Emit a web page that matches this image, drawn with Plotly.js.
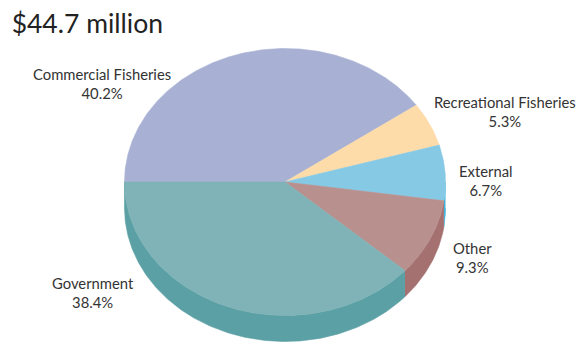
<!DOCTYPE html>
<html>
<head>
<meta charset="utf-8">
<script src="https://cdn.plot.ly/plotly-3.0.1.min.js"></script>
<style>html,body{margin:0;padding:0;background:#fff;}#chart{width:582px;height:342px;}</style>
</head>
<body>
<div id="chart"></div>
<script>
// ---- data ----
const categories = ["Commercial Fisheries", "Recreational Fisheries", "External", "Other", "Government"];
const shares = [40.2, 5.3, 6.7, 9.3, 38.4];
const shareLabels = ["40.2%", "5.3%", "6.7%", "9.3%", "38.4%"];
const chartTitle = "$44.7 million";

// ---- styles / geometry ----
const topColors  = ["#a8b1d4", "#fddcaa", "#86c9e5", "#b8908d", "#7fb3b7"];
const sideColors = ["#8f98be", "#e8c48f", "#3fb2dc", "#a57170", "#5aa0a5"];
const geo = {cx: 285, cy: 182, rx: 160.5, ry: 133.5, depth: 26, start: 180};
const labelPos = [[102, 83], [505, 111], [485, 180], [472, 257], [93, 292]];

const total = shares.reduce((a, b) => a + b, 0);
const rad = d => d * Math.PI / 180;
const px = a => geo.cx + geo.rx * Math.cos(rad(a));
const py = (a, off) => geo.cy - geo.ry * Math.sin(rad(a)) + (off || 0);

function arc(a1, a2, off) { // a1 > a2, decreasing
  const xs = [], ys = [];
  const n = Math.max(2, Math.ceil((a1 - a2) / 0.5));
  for (let i = 0; i <= n; i++) {
    const a = a1 - (a1 - a2) * i / n;
    xs.push(px(a)); ys.push(py(a, off));
  }
  return [xs, ys];
}

const sideTraces = [], topTraces = [];
let ang = geo.start;
shares.forEach((v, i) => {
  const sweep = v / total * 360;
  const a1 = ang, a2 = ang - sweep;
  ang = a2;
  const lo = Math.max(a2, -180), hi = Math.min(a1, 0);
  if (hi > lo) {
    const [tx, ty] = arc(hi, lo, 0);
    const [bx, by] = arc(hi, lo, geo.depth);
    sideTraces.push({
      type: "scatter", mode: "lines", fill: "toself",
      x: tx.concat(bx.reverse()), y: ty.concat(by.reverse()),
      fillcolor: sideColors[i], line: {color: sideColors[i], width: 0.6},
      hoverinfo: "skip", showlegend: false
    });
  }
  const [ax, ay] = arc(a1, a2, 0);
  topTraces.push({
    type: "scatter", mode: "lines", fill: "toself",
    x: [geo.cx].concat(ax, [geo.cx]), y: [geo.cy].concat(ay, [geo.cy]),
    fillcolor: topColors[i], line: {color: topColors[i], width: 0.6},
    hoverinfo: "skip", showlegend: false
  });
});

const annotations = categories.map((c, i) => ({
  x: labelPos[i][0], y: labelPos[i][1], xref: "x", yref: "y",
  text: c + "<br>" + shareLabels[i], showarrow: false,
  xanchor: "center", yanchor: "middle", align: "center",
  font: {family: "Lato, 'Open Sans', sans-serif", size: 14.8, color: "#333333"}
}));

const layout = {
  width: 582, height: 342,
  margin: {l: 0, r: 0, t: 0, b: 0},
  paper_bgcolor: "#ffffff", plot_bgcolor: "#ffffff",
  title: {text: chartTitle, x: 0.02, xanchor: "left", y: 0.93, yanchor: "middle",
          font: {family: "Lato, 'Open Sans', sans-serif", size: 26.5, color: "#222222"}},
  xaxis: {range: [0, 582], visible: false, fixedrange: true},
  yaxis: {range: [342, 0], visible: false, fixedrange: true},
  annotations: annotations,
  showlegend: false
};

Plotly.newPlot("chart", sideTraces.concat(topTraces), layout, {staticPlot: true, displayModeBar: false});
</script>
</body>
</html>
